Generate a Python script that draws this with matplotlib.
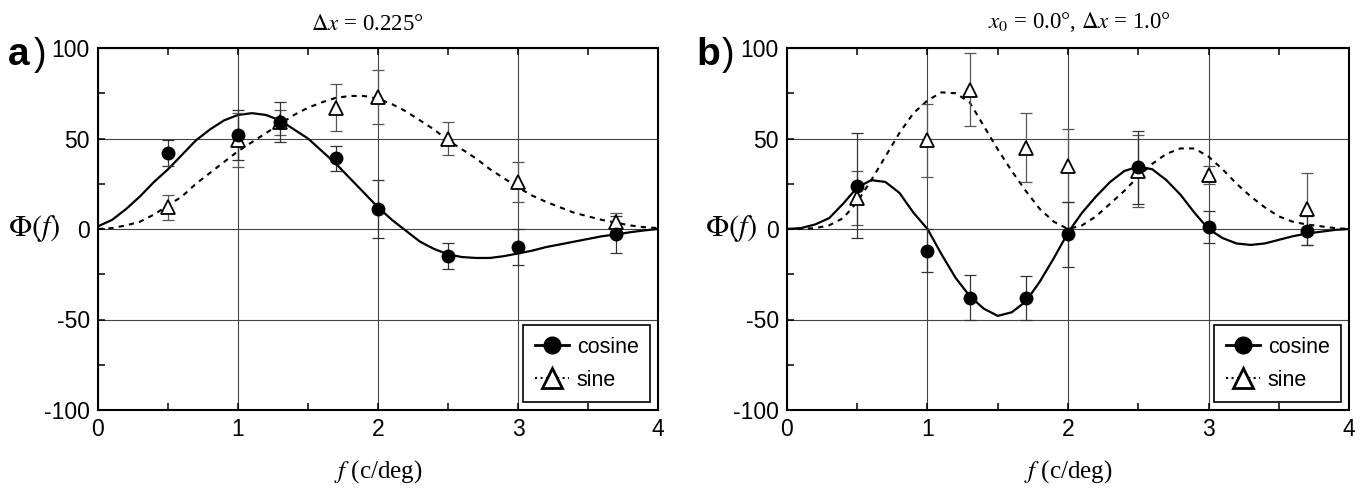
import matplotlib
matplotlib.use("Agg")
import matplotlib.pyplot as plt
from matplotlib.lines import Line2D
from matplotlib.ticker import MultipleLocator

plt.rcParams['font.family'] = ['Liberation Sans Narrow', 'Liberation Sans', 'DejaVu Sans']
plt.rcParams['mathtext.fontset'] = 'stix'
plt.rcParams['axes.unicode_minus'] = False

# measured points (spatial frequency, c/deg)
f_pts = [0.5, 1.0, 1.3, 1.7, 2.0, 2.5, 3.0, 3.7]

# panel a
a_cos = [42, 52, 59, 39, 11, -15, -10, -3]
a_cos_err = [7, 14, 11, 7, 16, 7, 10, 10]
a_sin = [12, 49, 59, 67, 73, 50, 26, 4]
a_sin_err = [7, 15, 7, 13, 15, 9, 11, 5]

# panel b
b_cos = [24, -12, -38, -38, -3, 34, 1, -1]
b_cos_err = [29, 12, 12.5, 12, 18, 20, 9, 8]
b_sin = [17, 49, 77, 45, 35, 32, 30, 11]
b_sin_err = [15, 20, 20, 19, 20, 20, 5, 20]

# fitted curves, every 0.1 c/deg
f_fit = [i / 10 for i in range(41)]
a_cos_fit = [1.5, 5, 11, 18, 26, 33, 41, 49, 55, 60,
             63, 64, 63, 60, 55, 50, 43, 36, 28, 20,
             12, 5, -1, -7, -11, -14, -15.5, -16, -16, -15,
             -13.5, -12, -10, -8.5, -7, -5.5, -4, -3, -1.8, -0.8, 0]
a_sin_fit = [0, 0.5, 2, 4, 8, 13, 18, 25, 31, 37,
             43, 48, 53, 58, 63, 67, 70, 72.5, 73.5, 73.5,
             72, 69, 65, 60, 55, 49, 44, 39, 33, 28,
             23, 18.5, 15, 12, 9, 7, 5, 3.5, 2, 1, 0.5]
b_cos_fit = [0, 0.5, 2.5, 6, 14, 23, 27, 26, 20, 9,
             0, -14, -27, -37, -44, -48, -46, -40, -29, -16,
             -2, 9, 18, 26, 32, 34.5, 33, 27, 19, 9,
             0, -5, -8, -8.8, -8, -6, -4, -2.5, -1.5, -0.5, 0]
b_sin_fit = [0, 0, 0.5, 2, 6, 15, 27, 40, 53, 64,
             71, 75.5, 75, 70, 57, 44, 32, 21, 11, 4,
             0, 2, 7, 14, 21, 29, 36, 41.5, 44.5, 44.5,
             40, 33, 25, 18, 12, 7, 4, 2.5, 1.5, 0.5, 0]

W, H = 1370, 491
fig = plt.figure(figsize=(W / 100, H / 100), dpi=100)


def draw_panel(ax, cos_v, cos_e, sin_v, sin_e, cos_fit, sin_fit):
    ax.set_xlim(0, 4)
    ax.set_ylim(-100, 100)
    ax.set_xticks([0, 1, 2, 3, 4])
    ax.set_yticks([-100, -50, 0, 50, 100])
    ax.xaxis.set_minor_locator(MultipleLocator(0.5))
    ax.yaxis.set_minor_locator(MultipleLocator(25))
    ax.grid(True, which='major', color='#444444', lw=0.8, zorder=0)
    ax.tick_params(which='both', direction='in', top=True, right=False,
                   length=5, width=1.1, labelsize=16.5, pad=6)
    for s in ax.spines.values():
        s.set_linewidth(1.5)

    ax.plot(f_fit, cos_fit, color='black', lw=1.6, zorder=3)
    ax.plot(f_fit, sin_fit, color='black', lw=1.5, ls=(0, (2.5, 2.5)), zorder=3)

    ax.errorbar(f_pts, sin_v, yerr=sin_e, fmt='none', ecolor='#555555',
                elinewidth=0.9, capsize=4.5, capthick=0.9, zorder=4)
    ax.errorbar(f_pts, cos_v, yerr=cos_e, fmt='none', ecolor='#333333',
                elinewidth=0.9, capsize=4.5, capthick=0.9, zorder=4)
    ax.plot(f_pts, sin_v, ls='none', marker='^', ms=10, mfc='white',
            mec='black', mew=1.3, zorder=5)
    ax.plot(f_pts, cos_v, ls='none', marker='o', ms=9, mfc='black',
            mec='black', zorder=6)

    handles = [
        Line2D([], [], color='black', lw=2, marker='o', ms=12, mfc='black'),
        Line2D([], [], color='black', lw=1.5, ls=':', marker='^', ms=14,
               mfc='white', mew=2),
    ]
    leg = ax.legend(handles, ['cosine', 'sine'], loc='lower right',
                    fontsize=15.5, frameon=True, fancybox=False,
                    edgecolor='black', framealpha=1, handlelength=1.6,
                    handletextpad=0.35, borderaxespad=0.35,
                    borderpad=0.55, labelspacing=0.55)
    leg.get_frame().set_linewidth(1.2)


ax_a = fig.add_axes([98 / W, 81 / H, 560 / W, 362 / H])
ax_b = fig.add_axes([787 / W, 81 / H, 562 / W, 362 / H])

draw_panel(ax_a, a_cos, a_cos_err, a_sin, a_sin_err, a_cos_fit, a_sin_fit)
draw_panel(ax_b, b_cos, b_cos_err, b_sin, b_sin_err, b_cos_fit, b_sin_fit)

serif = ['Liberation Serif', 'DejaVu Serif']
for ax in (ax_a, ax_b):
    ax.set_xlabel(r'$f$ (c/deg)', family=serif, fontsize=18, labelpad=12)

fig.text(367 / W, 1 - 30 / H, r'$\Delta x$ = 0.225°', family=serif,
         fontsize=16.5, ha='center', va='baseline')
fig.text(1079 / W, 1 - 28 / H, r'$x_0$ = 0.0°, $\Delta x$ = 1.0°',
         family=serif, fontsize=16.5, ha='center', va='baseline')

# panel letters
for x0, letter in ((8, 'a'), (696, 'b')):
    fig.text(x0 / W, 1 - 65 / H, letter, family='Liberation Sans',
             fontsize=28, weight='bold', ha='left', va='baseline')
    fig.text((x0 + 26) / W, 1 - 65 / H, ')', family='Liberation Sans',
             fontsize=27, ha='left', va='baseline')
for x0 in (8, 705):
    fig.text(x0 / W, 1 - 229 / H, r'$\Phi(f)$', family=serif,
             fontsize=22, ha='left', va='center')

fig.savefig('out.png', dpi=100)
